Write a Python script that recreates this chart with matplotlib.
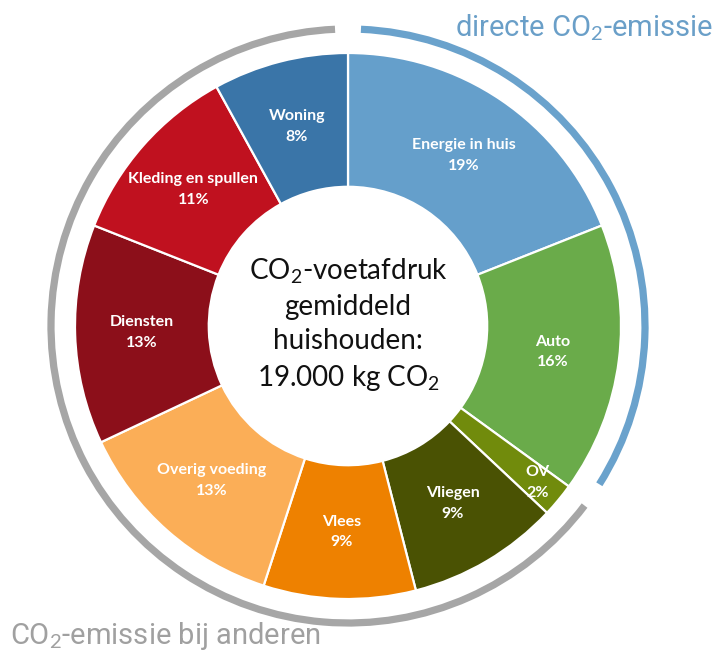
import numpy as np
import matplotlib
matplotlib.use('Agg')
import matplotlib.pyplot as plt
from matplotlib.patches import Arc

plt.rcParams['mathtext.fontset'] = 'custom'
plt.rcParams['mathtext.rm'] = 'Lato'
plt.rcParams['mathtext.it'] = 'Lato:italic'
plt.rcParams['mathtext.bf'] = 'Lato:bold'

# data
categories = ['Energie in huis', 'Auto', 'OV', 'Vliegen', 'Vlees',
              'Overig voeding', 'Diensten', 'Kleding en spullen', 'Woning']
shares = [19, 16, 2, 9, 9, 13, 13, 11, 8]
colors = ['#659fcb', '#6aab4a', '#718b0c', '#4a5203', '#ee8100',
          '#fbae57', '#8c0f1a', '#c0111f', '#3a75a8']
n_direct = 3  # Energie, Auto, OV

W, H = 716, 653
cx, cy, R = 348, 326, 273   # pie centre and radius in pixels

fig = plt.figure(figsize=(W / 100, H / 100), dpi=100)
ax = fig.add_axes([0, 0, 1, 1])

wedges, _ = ax.pie(shares, colors=colors, startangle=90, counterclock=False,
                   radius=1, wedgeprops=dict(width=0.49, edgecolor='white', linewidth=1.6))

ax.set_xlim(-cx / R, (W - cx) / R)
ax.set_ylim(-(H - cy) / R, cy / R)
ax.set_aspect('equal')
ax.axis('off')

# labels in the wedges
total = sum(shares)
cum = np.cumsum([0] + shares)
for i, (name, s) in enumerate(zip(categories, shares)):
    mid = (cum[i] + s / 2) / total * 360  # clockwise from top
    r = 0.9 if name == 'OV' else 0.755
    th = np.deg2rad(90 - mid)
    ax.text(r * np.cos(th), r * np.sin(th), name + '\n' + str(s) + '%',
            ha='center', va='center', color='white', fontsize=11.5,
            fontweight='bold', family='Lato', linespacing=1.6)

# centre text
ax.text(0, 0.005, 'CO$_2$-voetafdruk\ngemiddeld\nhuishouden:\n19.000 kg CO$_2$',
        ha='center', va='center', fontsize=20, family='Lato', color='#111111',
        linespacing=1.38)

# outer arcs
direct_end = cum[n_direct] / total * 360
ra = 297 / R
ax.add_patch(Arc((0, 0), 2 * ra, 2 * ra, theta1=90 - (direct_end - 11), theta2=90 - 2.5,
                 color='#6aa2cc', linewidth=5.2, capstyle='butt'))
ax.add_patch(Arc((0, 0), 2 * ra, 2 * ra, theta1=92.5, theta2=90 - (direct_end - 6) + 360,
                 color='#a6a6a6', linewidth=5.2, capstyle='butt'))

ax.text((713 - cx) / R, (cy - 28) / R, 'directe CO$_2$-emissie', ha='right', va='center',
        fontsize=21, color='#6a9fc8', family='Roboto')
ax.text((10 - cx) / R, (cy - 636) / R, 'CO$_2$-emissie bij anderen', ha='left', va='center',
        fontsize=21, color='#a0a0a0', family='Roboto')

fig.savefig('out.png', dpi=100)
